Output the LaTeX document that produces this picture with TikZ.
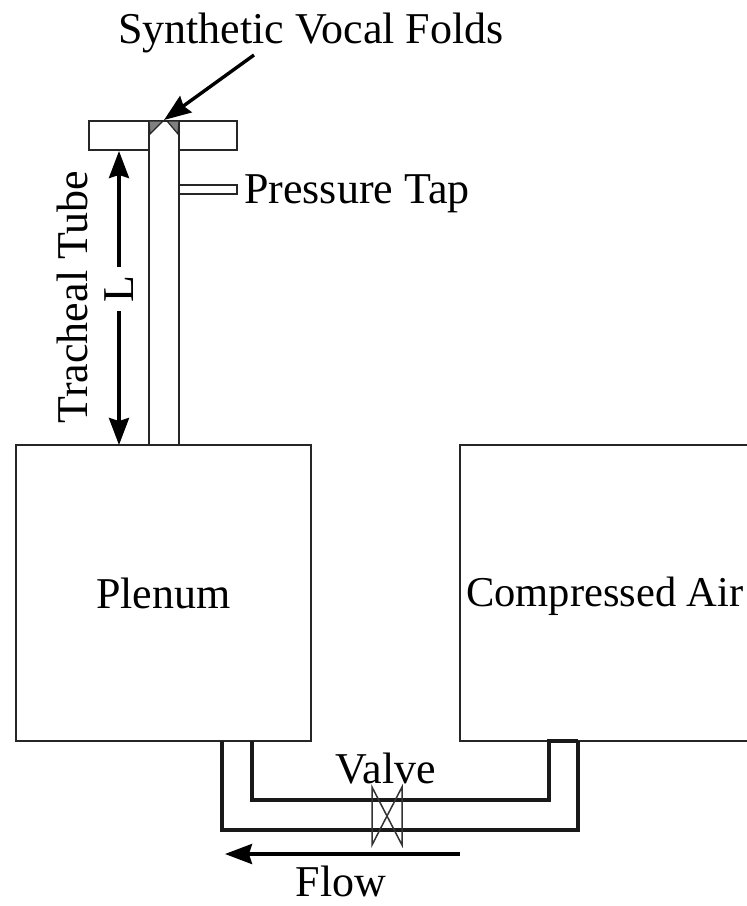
\documentclass[tikz,border=0pt]{standalone}
\usepackage{fontspec}
\usepackage{tikz}
\setmainfont{Liberation Serif}
\usetikzlibrary{arrows.meta}

\tikzset{
    chamber/.style={draw=black!85, line width=2.2pt, minimum width=295pt, minimum height=296pt, inner sep=0pt, font=\fontsize{44}{47}\selectfont},
    label/.style={font=\fontsize{44}{47}\selectfont, inner sep=0pt},
    wall/.style={draw=black!85, line width=2.4pt},
    pipe/.style={draw=black!90, line width=3.2pt},
    pointer/.style={draw=black, line width=3.4pt, -{Stealth[length=27pt, width=20pt, inset=3pt]}}
}

\begin{document}
\begin{tikzpicture}[x=1pt, y=-1pt]
    \useasboundingbox (0,0) rectangle (747,906);
    \fill[white] (0,0) rectangle (747,906);

    % tanks
    \node[chamber] (plenum) at (163.5,593) {Plenum};
    \draw[wall, line width=2.2pt] (747,445) -- (460,445) -- (460,741) -- (747,741);
    \node[label, anchor=west, font=\fontsize{42.5}{46}\selectfont] (air) at (466,596) {Compressed Air};

    % tracheal tube and plate
    \coordinate (plateA) at (89,121);
    \coordinate (plateB) at (237,150);
    \draw[wall] (plateA) rectangle (plateB);
    \fill[white] (149,122.5) rectangle (179,152);
    \draw[wall] (149,121) -- (149,445);
    \draw[wall] (179,121) -- (179,445);
    \draw[wall, fill=black!50, line width=1.2pt] (149,121) -- (163,121) -- (150,134) -- cycle;
    \draw[wall, fill=black!50, line width=1.2pt] (179,121) -- (167,121) -- (178,134) -- cycle;

    % tap
    \draw[wall] (179,185) -- (237,185) -- (237,194) -- (179,194);
    \node[label, anchor=west] (tap) at (244,194) {Pressure Tap};

    % folds label
    \node[label] (folds) at (311,33) {Synthetic Vocal Folds};
    \coordinate (foldsTip) at (164,120);
    \coordinate (foldsStart) at (254,55);
    \draw[pointer] (foldsStart) -- (foldsTip);

    % length
    \coordinate (spanTop) at (119,151);
    \coordinate (spanBot) at (119,445);
    \node[label, rotate=90, minimum width=44pt] (len) at (119,289) {L};
    \draw[pointer] (len.east) -- (spanTop);
    \draw[pointer] (len.west) -- (spanBot);
    \node[label, rotate=90] (tube) at (72,297) {Tracheal Tube};

    % pipe
    \draw[pipe] (222,741) -- (222,830) -- (578,830) -- (578,741);
    \draw[pipe] (252,741) -- (252,800) -- (549,800) -- (549,741) -- (578,741);

    % valve
    \draw[black!80, line width=1.5pt] (372,787) -- (402,845) -- (402,787) -- (372,845) -- cycle;
    \node[label] (valve) at (386,769) {Valve};

    % flow
    \coordinate (flowA) at (460,854);
    \coordinate (flowB) at (225,854);
    \draw[pointer] (flowA) -- (flowB);
    \node[label] (flow) at (341,881) {Flow};
\end{tikzpicture}
\end{document}
